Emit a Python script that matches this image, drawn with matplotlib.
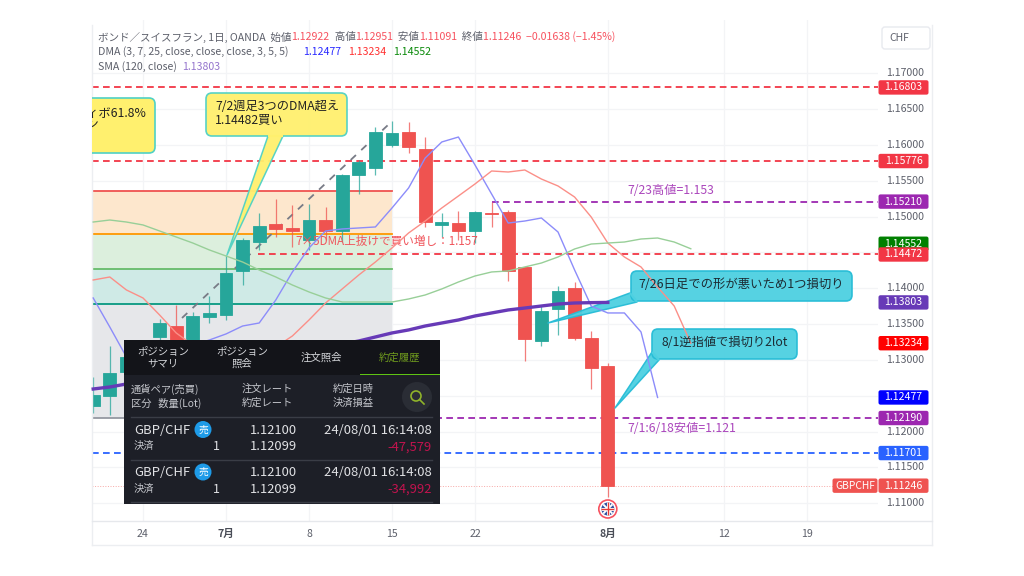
import matplotlib
matplotlib.use('Agg')
import matplotlib.pyplot as plt
from matplotlib.patches import Rectangle, Circle, Polygon, FancyBboxPatch

plt.rcParams['font.family'] = ['Noto Sans CJK JP', 'DejaVu Sans']

# bar index 0 is 6/24, one bar per trading day
firstBar = -3
opens = [1.12358, 1.12497, 1.12832, 1.12750, 1.13321, 1.13474, 1.13209, 1.13600, 1.13628, 1.14241, 1.14646, 1.14897,
  1.14841, 1.14674, 1.14953, 1.14800, 1.15581, 1.15679, 1.16000, 1.16181, 1.15944, 1.14883, 1.14911, 1.14800,
  1.15051, 1.15065, 1.14297, 1.13265, 1.13711, 1.14004, 1.13307, 1.12922]
closes = [1.12511, 1.12818, 1.13042, 1.12950, 1.13516, 1.13209, 1.13614, 1.13655, 1.14214, 1.14674, 1.14869, 1.14828,
  1.14800, 1.14953, 1.14800, 1.15581, 1.15762, 1.16181, 1.16167, 1.15972, 1.14925, 1.14925, 1.14800, 1.15065,
  1.15040, 1.14241, 1.13293, 1.13683, 1.13962, 1.13307, 1.12888, 1.11246]
highs = [1.12762, 1.13195, 1.13100, 1.13000, 1.13572, 1.13767, 1.13669, 1.13893, 1.14465, 1.14702, 1.15051, 1.15246,
  1.15162, 1.15176, 1.15134, 1.15595, 1.15790, 1.16251, 1.16334, 1.16320, 1.16111, 1.15051, 1.15079, 1.15079,
  1.15210, 1.15093, 1.14297, 1.13767, 1.14032, 1.14088, 1.13404, 1.12951]
lows = [1.12260, 1.12232, 1.12700, 1.12700, 1.13200, 1.13100, 1.13150, 1.13516, 1.13558, 1.14046, 1.14534, 1.14716,
  1.14576, 1.14534, 1.14674, 1.14646, 1.15316, 1.15581, 1.15972, 1.15888, 1.14855, 1.14716, 1.14674, 1.14632,
  1.14855, 1.14102, 1.12986, 1.13195, 1.13348, 1.13279, 1.12595, 1.11091]

dmaBlue = [1.13865, 1.13460, 1.13042, 1.12930, 1.13028, 1.13112, 1.13209, 1.13279, 1.13363, 1.13474, 1.13516, 1.13837,
  1.14228, 1.14563, 1.14800, 1.14828, 1.14842, 1.14856, 1.15121, 1.15400, 1.15818, 1.16042, 1.16111, 1.15721,
  1.15316, 1.14911, 1.14939, 1.14981, 1.14786, 1.14256, 1.13753, 1.13656, 1.13656, 1.13391, 1.12477]
dmaRed = [1.14116, 1.14158, 1.13977, 1.13865, 1.13628, 1.13377, 1.13209, 1.13139, 1.13056, 1.13028, 1.13084, 1.13181,
  1.13335, 1.13558, 1.13795, 1.13991, 1.14186, 1.14367, 1.14563, 1.14772, 1.14939, 1.15121, 1.15288, 1.15456,
  1.15637, 1.15623, 1.15651, 1.15525, 1.15428, 1.15274, 1.14995, 1.14632, 1.14437, 1.14298, 1.14018, 1.13753, 1.13234]
dmaGreen = [1.14925, 1.14953, 1.14925, 1.14884, 1.14800, 1.14716, 1.14632, 1.14535, 1.14451, 1.14367, 1.14256, 1.14158,
  1.14046, 1.13949, 1.13865, 1.13809, 1.13809, 1.13809, 1.13809, 1.13851, 1.13907, 1.13991, 1.14088, 1.14172,
  1.14228, 1.14242, 1.14298, 1.14353, 1.14437, 1.14549, 1.14618, 1.14632, 1.14646, 1.14688, 1.14702, 1.14646, 1.14552]
sma120 = [1.12595, 1.12623, 1.12665, 1.12707, 1.12749, 1.12791, 1.12846, 1.12888, 1.12930, 1.12972, 1.13014, 1.13056,
  1.13098, 1.13139, 1.13181, 1.13223, 1.13265, 1.13321, 1.13377, 1.13419, 1.13474, 1.13516, 1.13558, 1.13614,
  1.13656, 1.13698, 1.13725, 1.13753, 1.13781, 1.13795, 1.13800, 1.13803]

fibLevels = [1.15358, 1.14758, 1.14269, 1.13781, 1.12190]
fibLineColors = ['#ef5350', '#ff9800', '#66bb6a', '#089981', '#9598a1']
fibFillColors = ['#fde7cd', '#dcefdd', '#cfeae6', '#e6e7ea']
fibEndBar = 15

# price, color, first bar of the dashed line
hLines = [(1.16803, '#f23645', -3.1), (1.15776, '#f23645', -3.1), (1.15210, '#9c27b0', 21),
  (1.14472, '#f23645', 6.9), (1.12190, '#9c27b0', 5), (1.11701, '#2962ff', -3.1)]
trendBars = [2.35, 14.76]
trendPrices = [1.13586, 1.16279]

yTicks = [1.17, 1.165, 1.16, 1.155, 1.15, 1.14, 1.135, 1.13, 1.12, 1.115, 1.11]
yGrid = [1.17, 1.165, 1.16, 1.155, 1.15, 1.145, 1.14, 1.135, 1.13, 1.125, 1.12, 1.115, 1.11]
xTickBars = [0, 5, 10, 15, 20, 28, 35, 40]
xTickLabels = ['24', '7月', '8', '15', '22', '8月', '12', '19']

tagPrices = [1.16803, 1.15776, 1.15210, 1.14552, 1.14472, 1.13803, 1.13234, 1.12477, 1.12190, 1.11701, 1.11246]
tagColors = ['#f23645', '#f23645', '#9c27b0', '#008000', '#f23645', '#673ab7', '#ff0000', '#0000ff', '#9c27b0',
  '#2962ff', '#ef5350']

tabLabels = ['ポジション\nサマリ', 'ポジション\n照会', '注文照会', '約定履歴']
rowDate = '24/08/01 16:14:08'
rowLosses = ['-47,579', '-34,992']
orderRate = '1.12100'
fillRate = '1.12099'

fig = plt.figure(figsize=(10.24, 5.76), dpi=100)
ax = fig.add_axes([92/1024, 1 - 521/576, (878-92)/1024, (521-20)/576])
ax.set_xlim((92-143)/16.6, (878-143)/16.6)
ax.set_ylim(1.10753, 1.17744)
ax.tick_params(left=False, bottom=False, labelleft=False, labelbottom=False)
for s in ax.spines.values():
  s.set_visible(False)

for v in yGrid:
  ax.axhline(v, color='#f3f4f6', lw=0.9, zorder=0)
for b in xTickBars:
  ax.axvline(b, color='#f3f4f6', lw=0.9, zorder=0)

# fib zones
left = ax.get_xlim()[0]
for i, c in enumerate(fibFillColors):
  ax.fill_between([left, fibEndBar], fibLevels[i+1], fibLevels[i], color=c, lw=0, zorder=1)
for v, c in zip(fibLevels, fibLineColors):
  ax.plot([left, fibEndBar], [v, v], color=c, lw=1.3, zorder=1.5)

for price, color, start in hLines:
  ax.plot([start, ax.get_xlim()[1]], [price, price], color=color, lw=1.3, dashes=(3.7, 2.4), zorder=2)
ax.plot([left, ax.get_xlim()[1]], [closes[-1], closes[-1]], color='#f7a8a6', lw=0.7, ls=':', zorder=2)
ax.plot(trendBars, trendPrices, color='#787b86', lw=1.3, dashes=(4, 4), zorder=2)

def drawCandles():
  for i in range(len(opens)):
    x = firstBar + i
    color = '#26a69a' if closes[i] >= opens[i] else '#ef5350'
    ax.plot([x, x], [lows[i], highs[i]], color=color, lw=0.9, alpha=0.75, zorder=3, solid_capstyle='butt')
    bottom = min(opens[i], closes[i])
    height = abs(closes[i] - opens[i])
    ax.add_patch(Rectangle((x - 0.39, bottom), 0.78, height, fc=color, ec=color, lw=0.6, zorder=3.1))

drawCandles()

def bars(values):
  return [firstBar + i for i in range(len(values))]

ax.text(9.2, 1.14651, '7×5DMA上抜けで買い増し：1.157', color='#f0555c', fontsize=8.4, va='center', zorder=5)
ax.text(29.2, 1.15365, '7/23高値=1.153', color='#ab47bc', fontsize=8.8, va='center', zorder=5)
ax.text(29.2, 1.12040, '7/1:6/18安値=1.121', color='#ab47bc', fontsize=8.8, va='center', zorder=5)

# overlay in pixels for the chrome, the callouts and the order panel
ov = fig.add_axes([0, 0, 1, 1], zorder=10)
ov.set_xlim(0, 1024)
ov.set_ylim(576, 0)
ov.axis('off')
ov.patch.set_alpha(0)

# the averages run over the callouts, so they live on the overlay, still in price units
for values, color, width in [(dmaBlue, '#8c8cfa', 1.0), (dmaRed, '#fb8f88', 1.0), (dmaGreen, '#98cf98', 1.0), (sma120, '#673ab7', 2.4)]:
  ov.plot(bars(values), values, color=color, lw=width, transform=ax.transData, zorder=7)

def yPx(price):
  return 576 - ax.transData.transform((0, price))[1]

def xPx(bar):
  return ax.transData.transform((bar, 0))[0]

def rect(x0, y0, x1, y1, fc, ec='none', lw=0, z=1):
  ov.add_patch(Rectangle((x0, y0), x1-x0, y1-y0, fc=fc, ec=ec, lw=lw, zorder=z))

def textRun(x, y, pieces, size=7.6):
  '''Puts differently coloured strings one after the other'''
  renderer = fig.canvas.get_renderer()
  for s, color in pieces:
    t = ov.text(x, y, s, color=color, fontsize=size, va='center', ha='left', zorder=20)
    x += t.get_window_extent(renderer).width

def callout(x0, y0, x1, y1, tail, fc, ec, alpha=0.95):
  '''Rounded box with a pointer, tail is base1, base2, tip'''
  ov.add_patch(Polygon(tail, closed=True, fc=fc, ec=ec, lw=1.1, alpha=alpha, zorder=5, joinstyle='round'))
  ov.add_patch(FancyBboxPatch((x0+6, y0+6), x1-x0-12, y1-y0-12, boxstyle='round,pad=6,rounding_size=6',
    fc=fc, ec=ec, lw=1.2, alpha=alpha, zorder=6))
  ov.plot([tail[0][0], tail[1][0]], [tail[0][1], tail[1][1]], color=fc, lw=1.6, zorder=6.5, solid_capstyle='butt')

# frame
ov.plot([92, 92], [25, 545], color='#eceef1', lw=1, zorder=2)
ov.plot([932, 932], [25, 545], color='#eceef1', lw=1, zorder=2)
ov.plot([92, 932], [545, 545], color='#eceef1', lw=1, zorder=2)
ov.plot([92, 932], [521, 521], color='#e6e8ec', lw=1, zorder=2)

# header legend
grey = '#5d606b'
textRun(98, 37, [('ボンド／スイスフラン, 1日, OANDA  始値', grey), ('1.12922', '#f7525f'), ('  高値', grey),
  ('1.12951', '#f7525f'), ('  安値', grey), ('1.11091', '#f7525f'), ('  終値', grey),
  ('1.11246  −0.01638 (−1.45%)', '#f7525f')])
textRun(98, 52, [('DMA (3, 7, 25, close, close, close, 3, 5, 5)', grey), ('      ', grey), ('1.12477', '#2a2aff'), ('   ', grey),
  ('1.13234', '#ff3030'), ('   ', grey), ('1.14552', '#0a8a0a')])
textRun(98, 67, [('SMA (120, close)  ', grey), ('1.13803', '#9575cd')])

ov.add_patch(FancyBboxPatch((884, 29), 44, 18, boxstyle='round,pad=2,rounding_size=3', fc='white', ec='#e8eaef', lw=1, zorder=3))
ov.text(899, 38, 'CHF', color=grey, fontsize=7.5, ha='center', va='center', zorder=4)

# axis labels
for v in yTicks:
  ov.text(905, yPx(v), f'{v:.5f}', color='#5d606b', fontsize=7.6, ha='center', va='center', zorder=3)
for b, label in zip(xTickBars, xTickLabels):
  weight = 'bold' if '月' in label else 'normal'
  ov.text(xPx(b), 534, label, color='#4a4d57' if weight == 'bold' else '#5d606b', fontsize=7.6, fontweight=weight,
    ha='center', va='center', zorder=3)

# price tags, the DMA 25 tag gets pushed up by its neighbour
tagShift = {1.14552: -5}
for v, c in zip(tagPrices, tagColors):
  py = yPx(v) + tagShift.get(v, 0)
  ov.add_patch(FancyBboxPatch((879, py-6.7), 49, 13.4, boxstyle='round,pad=0.5,rounding_size=2', fc=c, ec='none', zorder=4))
  ov.text(903.5, py, f'{v:.5f}', color='white', fontsize=7.6, ha='center', va='center', zorder=5)
py = yPx(closes[-1])
ov.add_patch(FancyBboxPatch((833, py-6.7), 44, 13.4, boxstyle='round,pad=0.5,rounding_size=2', fc='#ef5350', ec='none', zorder=4))
ov.text(855, py, 'GBPCHF', color='white', fontsize=7.4, ha='center', va='center', zorder=5)

# callouts
yellow, teal, cyan, cyanEdge = '#fff06e', '#4fd1c5', '#4dd0e1', '#26bcd6'
clipBox = Rectangle((92, 0), 900, 576, transform=ov.transData)
cutBox = FancyBboxPatch((80, 104), 69, 43, boxstyle='round,pad=6,rounding_size=6', fc=yellow, ec=teal, lw=1.2, zorder=6)
ov.add_patch(cutBox)
cutBox.set_clip_path(clipBox)
for tx, ty, s, ha in [(146, 113, 'フィボ61.8%', 'right'), (62, 125, 'ライン', 'left')]:
  t = ov.text(tx, ty, s, color='#222222', fontsize=8.8, ha=ha, va='center', zorder=8, clip_on=True)
  t.set_clip_path(clipBox)

callout(206, 93, 347, 136, [(268, 136), (283, 136), (227, 255)], yellow, teal)
ov.text(215, 107, '7/2週足3つのDMA超え', color='#222222', fontsize=8.8, va='center', zorder=8)
ov.text(215, 120, '1.14482買い', color='#222222', fontsize=8.8, va='center', zorder=8)

callout(631, 271, 852, 301, [(630, 293), (637, 302), (548, 323)], cyan, cyanEdge)
ov.text(741, 285, '7/26日足での形が悪いため1つ損切り', color='#1c2b33', fontsize=8.9, ha='center', va='center', zorder=8)

callout(652, 329, 797, 359, [(652, 352), (659, 360), (615, 408)], cyan, cyanEdge)
ov.text(725, 343, '8/1逆指値で損切り2lot', color='#1c2b33', fontsize=8.8, ha='center', va='center', zorder=8)

# earnings flag under the last bar
flagX, flagY = xPx(28), 509
ov.add_patch(Circle((flagX, flagY), 9, fc='white', ec='#f7525f', lw=1.2, zorder=6))
inner = Circle((flagX, flagY), 6.5, fc='#2f4f9f', ec='none', zorder=6.1)
ov.add_patch(inner)
for dx, dy, c, w in [(7, 7, 'white', 1.4), (7, -7, 'white', 1.4), (7, 0, 'white', 2.2), (0, 7, 'white', 2.2),
  (7, 0, '#e53935', 1), (0, 7, '#e53935', 1)]:
  l, = ov.plot([flagX-dx, flagX+dx], [flagY-dy, flagY+dy], color=c, lw=w, zorder=6.2)
  l.set_clip_path(inner)

# order history panel
px0, py0, px1, py1 = 124, 340, 439.5, 504
rect(px0, py0, px1, py1, '#1d1f27', z=10)
rect(px0, py0, px1, 375, '#131419', z=10.1)
rect(360, 373.5, px1, 375, '#5fc313', z=10.2)
panelText = '#d4d6da'
for cx, label, c in zip([163, 242, 321, 400], tabLabels, [panelText, panelText, panelText, '#6f9a1e']):
  ov.text(cx, 358, label, color=c, fontsize=7.5, ha='center', va='center', linespacing=1.15, zorder=11)

hdr = '#c4c6cc'
ov.text(131, 389, '通貨ペア(売買)', color=hdr, fontsize=7.4, va='center', zorder=11)
ov.text(131, 403, '区分   数量(Lot)', color=hdr, fontsize=7.4, va='center', zorder=11)
ov.text(242, 389, '注文レート', color=hdr, fontsize=7.4, va='center', zorder=11)
ov.text(242, 403, '約定レート', color=hdr, fontsize=7.4, va='center', zorder=11)
ov.text(333, 389, '約定日時', color=hdr, fontsize=7.4, va='center', zorder=11)
ov.text(333, 403, '決済損益', color=hdr, fontsize=7.4, va='center', zorder=11)

ov.add_patch(Circle((417, 397), 15, fc='#2a2d35', ec='none', zorder=11))
ov.add_patch(Circle((416, 396), 5, fc='none', ec='#8fb32a', lw=1.2, zorder=12))
ov.plot([419.5, 424], [399.5, 404], color='#8fb32a', lw=1.2, zorder=12)

for y in [417, 459.5, 502]:
  ov.plot([131, 432], [y, y], color='#3a3d46', lw=1, zorder=11)

for i, loss in enumerate(rowLosses):
  top = 430 + i*42.5
  ov.text(134, top, 'GBP/CHF', color='#e0e1e4', fontsize=9.4, va='center', zorder=11)
  ov.add_patch(Circle((203, top-0.5), 8.5, fc='#1e9be8', ec='none', zorder=11))
  ov.text(203, top-0.5, '売', color='white', fontsize=7, ha='center', va='center', zorder=12)
  ov.text(134, top+16, '決済', color=hdr, fontsize=7.4, va='center', zorder=11)
  ov.text(220, top+17, '1', color='#e0e1e4', fontsize=9, ha='right', va='center', zorder=11)
  ov.text(297, top, orderRate, color='#e0e1e4', fontsize=9.3, ha='right', va='center', zorder=11)
  ov.text(297, top+17, fillRate, color='#e0e1e4', fontsize=9.3, ha='right', va='center', zorder=11)
  ov.text(432, top, rowDate, color='#e0e1e4', fontsize=9.4, ha='right', va='center', zorder=11)
  ov.text(432, top+17, loss, color='#c2134e', fontsize=9.4, ha='right', va='center', zorder=11)

fig.savefig('out.png', dpi=100, facecolor='white')
